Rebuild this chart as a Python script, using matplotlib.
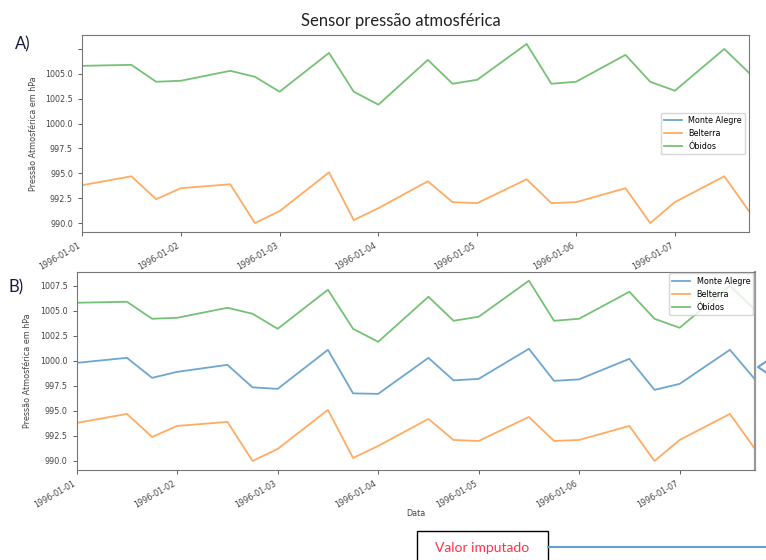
import numpy as np
import pandas as pd
import matplotlib
matplotlib.use("Agg")
import matplotlib.pyplot as plt
import matplotlib.dates as mdates
from matplotlib.lines import Line2D
from matplotlib.patches import Rectangle

# leituras 00h, 12h e 18h de cada dia
dias = ["1996-01-01", "1996-01-02", "1996-01-03", "1996-01-04",
        "1996-01-05", "1996-01-06", "1996-01-07"]
horas = ["00:00", "12:00", "18:00"]

obidos = [1005.8, 1005.9, 1004.2, 1004.3, 1005.3, 1004.7, 1003.2, 1007.1, 1003.2,
          1001.9, 1006.4, 1004.0, 1004.4, 1008.0, 1004.0, 1004.2, 1006.9, 1004.2,
          1003.3, 1007.5, 1005.1]
belterra = [993.8, 994.7, 992.4, 993.5, 993.9, 990.0, 991.2, 995.1, 990.3,
            991.5, 994.2, 992.1, 992.0, 994.4, 992.0, 992.1, 993.5, 990.0,
            992.1, 994.7, 991.2]
# Monte Alegre com os valores imputados (painel B)
monte_alegre = [999.8, 1000.3, 998.3, 998.9, 999.6, 997.35, 997.2, 1001.1, 996.75,
                996.7, 1000.3, 998.05, 998.2, 1001.2, 998.0, 998.15, 1000.2, 997.1,
                997.7, 1001.1, 998.15]

datas = pd.to_datetime([d + " " + h for d in dias for h in horas])

cores = {"Monte Alegre": "#1f77b4", "Belterra": "#ff7f0e", "Óbidos": "#2ca02c"}
fs = 5.8

fig = plt.figure(figsize=(7.66, 5.60), dpi=100)
W, H = 766.0, 560.0

def eixo(x0, y0, x1, y1):
    return fig.add_axes([x0 / W, 1 - y1 / H, (x1 - x0) / W, (y1 - y0) / H])

def formata(ax):
    ax.xaxis.set_major_locator(mdates.DayLocator())
    ax.xaxis.set_major_formatter(mdates.DateFormatter("%Y-%m-%d"))
    ax.set_xlim(datas[0], datas[-1])
    ax.set_ylim(989.1, 1008.9)
    ax.set_yticks(np.arange(990, 1008, 2.5))
    ax.tick_params(labelsize=fs, colors="#444444", length=3, width=0.6)
    for lab in ax.get_xticklabels():
        lab.set_rotation(30)
        lab.set_ha("right")
    for s in ax.spines.values():
        s.set_color("#777777")
        s.set_linewidth(0.8)
    ax.set_ylabel("Pressão Atmosférica em hPa", fontsize=fs, color="#444444")
    ax.yaxis.set_label_coords(-0.066, 0.5)

# A) sem Monte Alegre
axA = eixo(82, 35, 749, 232)
axA.plot([], [], color=cores["Monte Alegre"], alpha=0.65, lw=1.3, label="Monte Alegre")
axA.plot(datas, belterra, color=cores["Belterra"], alpha=0.65, lw=1.3, label="Belterra")
axA.plot(datas, obidos, color=cores["Óbidos"], alpha=0.65, lw=1.3, label="Óbidos")
formata(axA)
labs = axA.get_yticklabels()
labs[-1].set_visible(False)
axA.legend(loc="center right", fontsize=fs, handlelength=2.2, borderaxespad=0.5)

# B) com Monte Alegre imputado
axB = eixo(76.7, 271.7, 755, 470)
axB.plot(datas, monte_alegre, color=cores["Monte Alegre"], alpha=0.65, lw=1.3, label="Monte Alegre")
axB.plot(datas, belterra, color=cores["Belterra"], alpha=0.65, lw=1.3, label="Belterra")
axB.plot(datas, obidos, color=cores["Óbidos"], alpha=0.65, lw=1.3, label="Óbidos")
formata(axB)
axB.spines["right"].set_color("#999999")
axB.spines["right"].set_linewidth(1.6)
axB.legend(loc="upper right", fontsize=fs, handlelength=2.2, borderaxespad=0.2)

fig.text(416 / W, 1 - 513 / H, "Data", fontsize=fs, color="#444444", ha="center", va="center")

fig.text(401 / W, 1 - 21 / H, "Sensor pressão atmosférica", family="Lato",
         fontsize=12, color="#222222", ha="center", va="center")
fig.text(15 / W, 1 - 44 / H, "A)", family="Lato", fontsize=12, color="#1a1a40", va="center")
fig.text(8 / W, 1 - 287 / H, "B)", family="Lato", fontsize=12, color="#1a1a40", va="center")

# caixa de anotação e seta
fig.patches.append(Rectangle((416.7 / W, 1 - 575 / H), 131 / W, 44 / H,
                             transform=fig.transFigure, fill=False,
                             edgecolor="black", lw=1.0))
fig.text(482 / W, 1 - 548 / H, "Valor imputado", family="Lato", fontsize=10,
         color="#ff3344", ha="center", va="center")
fig.lines.append(Line2D([548 / W, 1.0], [1 - 546.7 / H] * 2, transform=fig.transFigure,
                        color="#6a9fd4", lw=1.5))
fig.lines.append(Line2D([767 / W, 758 / W, 767 / W],
                        [1 - 361 / H, 1 - 367 / H, 1 - 373 / H],
                        transform=fig.transFigure, color="#6a9fd4", lw=1.5))

fig.savefig("out.png", dpi=100, facecolor="white")
